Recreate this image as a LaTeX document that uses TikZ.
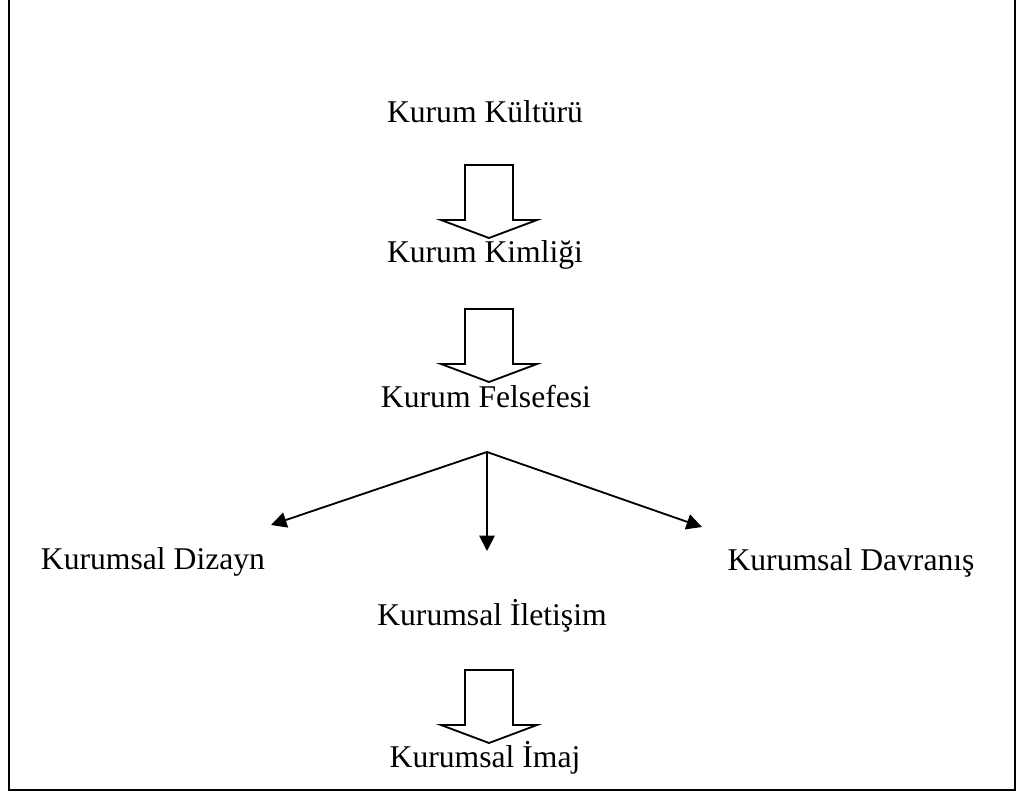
\documentclass[tikz,border=0pt]{standalone}
\usepackage{fontspec}
\setmainfont{Liberation Serif}
\usetikzlibrary{arrows.meta}

% hollow block arrow hanging from a named top point
\newcommand{\blockarrow}[1]{%
  \draw[block arrow] (#1) ++(-24,0) -- ++(0,55) -- ++(-24,0) -- ++(48,18)
    -- ++(48,-18) -- ++(-24,0) -- ++(0,-55) -- cycle;}

\begin{document}
\begin{tikzpicture}[x=0.025cm, y=-0.025cm, line join=miter,
                    label node/.style={anchor=base, inner sep=0pt,
                                       font=\fontsize{22.5}{27}\selectfont},
                    block arrow/.style={draw, line width=1.3pt},
                    branch/.style={line width=1.3pt, -{Triangle[length=11pt,width=11pt]}}]

  \useasboundingbox (0,0) rectangle (1018,793);
  \draw[line width=1.6pt] (9,0) -- (9,790) -- (1015,790) -- (1015,0);

  \node[label node] (kultur)   at (485,123) {Kurum Kültürü};
  \node[label node] (kimlik)   at (485,263) {Kurum Kimliği};
  \node[label node] (felsefe)  at (486,407) {Kurum Felsefesi};
  \node[label node] (dizayn)   at (153,569) {Kurumsal Dizayn};
  \node[label node] (davranis) at (851,570) {Kurumsal Davranış};
  \node[label node] (iletisim) at (492,625) {Kurumsal İletişim};
  \node[label node] (imaj)     at (485,767) {Kurumsal İmaj};

  \coordinate (top1) at (489,165);
  \coordinate (top2) at (489,309);
  \coordinate (top3) at (489,670);
  \blockarrow{top1}
  \blockarrow{top2}
  \blockarrow{top3}

  \coordinate (fork) at (487,452);
  \coordinate (tipL) at (271,525);
  \coordinate (tipM) at (487,551);
  \coordinate (tipR) at (702,527);
  \draw[branch] (fork) -- (tipL);
  \draw[branch] (fork) -- (tipM);
  \draw[branch] (fork) -- (tipR);
\end{tikzpicture}
\end{document}
